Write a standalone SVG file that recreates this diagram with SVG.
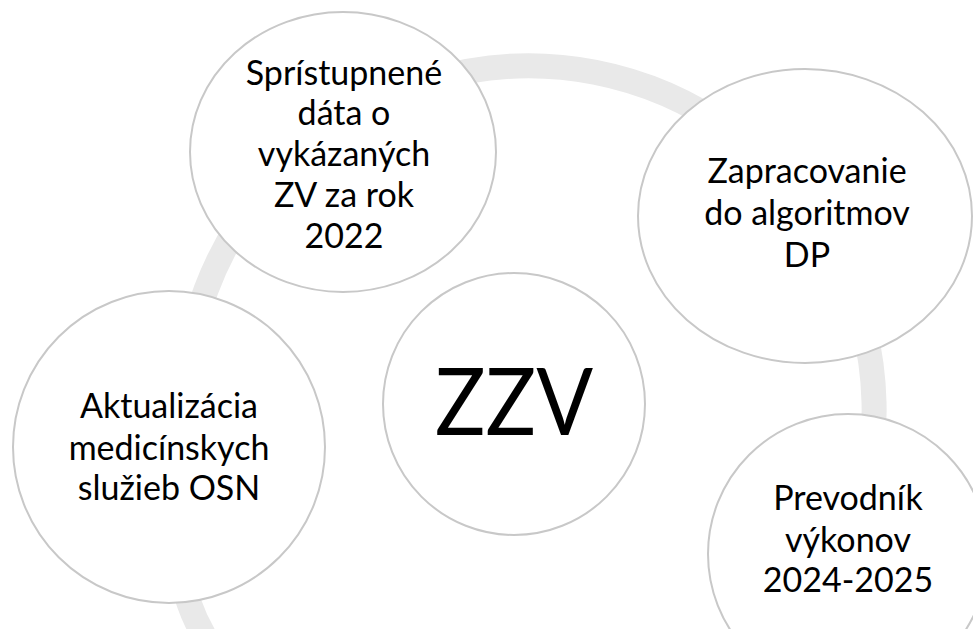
<svg xmlns="http://www.w3.org/2000/svg" width="973" height="629" viewBox="0 0 973 629">
<style>
.node{fill:#ffffff;stroke:#c8c8c8;stroke-width:2}
.lbl{font-family:Lato,"Open Sans","Liberation Sans",sans-serif;font-size:34px;fill:#000000;text-anchor:middle}
.big{font-family:Lato,"Open Sans","Liberation Sans",sans-serif;font-size:94px;fill:#000000;text-anchor:middle}
</style>
<rect width="973" height="629" fill="#ffffff"/>
<g id="connectors">
<path d="M745,680 A345,345 0 1 0 206,290 C167,395 152,498 189,603 C255,791 589,805 745,680 Z" fill="none" stroke="#e9e9e9" stroke-width="25"/>
</g>
<g id="node-top">
<ellipse class="node" cx="343" cy="152" rx="153" ry="140"/>
<text class="lbl" x="344" y="85">Sprístupnené</text>
<text class="lbl" x="344" y="125">dáta o</text>
<text class="lbl" x="344" y="166">vykázaných</text>
<text class="lbl" x="344" y="207">ZV za rok</text>
<text class="lbl" x="344" y="248">2022</text>
</g>
<g id="node-right">
<ellipse class="node" cx="805" cy="216" rx="167" ry="147"/>
<text class="lbl" x="807" y="183">Zapracovanie</text>
<text class="lbl" x="807" y="225">do algoritmov</text>
<text class="lbl" x="807" y="267">DP</text>
</g>
<g id="node-left">
<circle class="node" cx="169" cy="447" r="156"/>
<text class="lbl" x="169" y="418">Aktualizácia</text>
<text class="lbl" x="169" y="460">medicínskych</text>
<text class="lbl" x="169" y="500">služieb OSN</text>
</g>
<g id="node-bottom-right">
<circle class="node" cx="848" cy="554" r="140"/>
<text class="lbl" x="848" y="510">Prevodník</text>
<text class="lbl" x="848" y="552">výkonov</text>
<text class="lbl" x="848" y="592">2024-2025</text>
</g>
<g id="node-center">
<circle class="node" cx="514" cy="404" r="131"/>
<text class="big" x="514" y="435" textLength="158" lengthAdjust="spacingAndGlyphs">ZZV</text>
</g>
</svg>
